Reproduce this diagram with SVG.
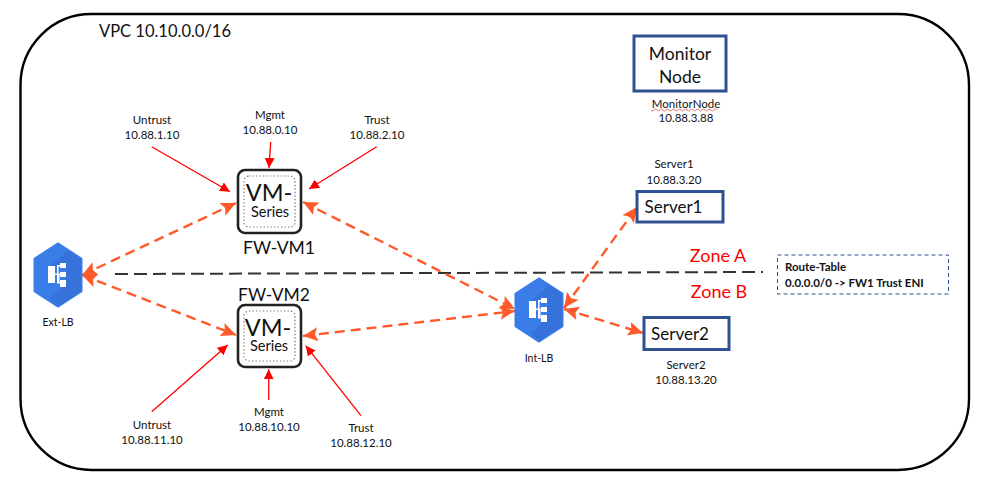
<svg xmlns="http://www.w3.org/2000/svg" width="986" height="487" viewBox="0 0 986 487">
<style>
text{font-family:"Lato","Liberation Sans",sans-serif;fill:#111;text-anchor:middle}
.s{font-size:11.5px}
.b{font-size:17.5px}
.z{font-size:18px;fill:#f00}
.box{fill:#fff;stroke:#2f5190;stroke-width:3}
.vm{fill:#fff;stroke:#222;stroke-width:2.6}
.dot{fill:none;stroke:#777;stroke-width:1.2;stroke-dasharray:1.3 2.2}
.da{fill:none;stroke:#ff5a2c;stroke-width:2.4;stroke-dasharray:10 6;marker-start:url(#oh);marker-end:url(#oh)}
.ra{fill:none;stroke:#f00;stroke-width:1.3;marker-end:url(#rh)}
.hex{fill:#3b7de8;stroke:#3b7de8;stroke-width:3;stroke-linejoin:round}
.sh{fill:#3672da}
.g{fill:#fff}
</style>
<defs>
<marker id="oh" markerUnits="userSpaceOnUse" markerWidth="16" markerHeight="14" refX="15" refY="7" orient="auto-start-reverse"><path d="M0 0L15 7L0 14L3 7Z" fill="#ff5a2c"/></marker>
<marker id="rh" markerUnits="userSpaceOnUse" markerWidth="10" markerHeight="10" refX="10" refY="5" orient="auto"><path d="M0 0L10 5L0 10Z" fill="#f00"/></marker>
<g id="lb"><path class="hex" d="M0 -31L23 -16V16L0 31L-23 16V-16Z"/><path class="sh" d="M23 -16V16L0 31L-8 23L8 9V-9L-8 -9L10 -25Z"/><path class="g" d="M-10 -9h7v17h-7zM2 -12h6v5h-6zM2 -3h6v5h-6zM2 5h6v7h-6zM-1 -10h3v1.500h-1.500v7H2v1.500h-.500v7H2v1.500h-3v-1.500h0v-7h-2v-1.500h2v-7h0z"/></g>
</defs>
<rect width="986" height="487" fill="#fff"/>
<g id="vpc"><rect x="20.500" y="14" width="948.500" height="456" rx="71" fill="none" stroke="#000" stroke-width="2.400"/><text x="165" y="37" style="font-size:16.500px">VPC 10.10.0.0/16</text></g>
<g id="connectors">
<path d="M115 274L763 272" fill="none" stroke="#333" stroke-width="2" stroke-dasharray="13 6"/>
<path class="da" d="M82 275L236 203"/>
<path class="da" d="M82 275L236 335"/>
<path class="da" d="M303 202L515 309"/>
<path class="da" d="M303 336L515 311"/>
<path class="da" d="M564 308L637 207"/>
<path class="da" d="M564 309L643 333"/>
<path class="ra" d="M151.700 146.700L230 191.700"/>
<path class="ra" d="M270.700 142L269 168"/>
<path class="ra" d="M376.700 146.700L309 189"/>
<path class="ra" d="M151.700 411.700L227.700 345"/>
<path class="ra" d="M268.700 400V369.300"/>
<path class="ra" d="M361 415.700L305.700 345.700"/>
</g>
<g id="ext-lb"><use href="#lb" x="58" y="275"/><text class="s" x="58" y="326" style="font-size:10.500px">Ext-LB</text></g>
<g id="int-lb"><use href="#lb" x="539" y="310"/><text class="s" x="539" y="362" style="font-size:10.500px">Int-LB</text></g>
<g id="fw-vm1"><rect class="vm" x="238" y="170" width="63" height="63" rx="7"/><rect class="dot" x="244" y="176" width="51" height="51" rx="5"/><text x="269" y="201" style="font-size:23.500px">VM-</text><text x="270" y="217" style="font-size:14.500px">Series</text><text x="279" y="254" class="b">FW-VM1</text></g>
<g id="fw-vm2"><rect class="vm" x="238" y="305" width="63" height="62" rx="7"/><rect class="dot" x="244" y="311" width="51" height="50" rx="5"/><text x="268" y="336" style="font-size:23.500px">VM-</text><text x="269" y="351" style="font-size:14.500px">Series</text><text x="274" y="301" class="b">FW-VM2</text></g>
<g id="if-untrust1"><text class="s" x="152" y="124">Untrust</text><text class="s" x="152" y="139">10.88.1.10</text></g>
<g id="if-mgmt1"><text class="s" x="270" y="119">Mgmt</text><text class="s" x="270" y="134">10.88.0.10</text></g>
<g id="if-trust1"><text class="s" x="377" y="124">Trust</text><text class="s" x="377" y="139">10.88.2.10</text></g>
<g id="if-untrust2"><text class="s" x="152" y="429">Untrust</text><text class="s" x="152" y="444">10.88.11.10</text></g>
<g id="if-mgmt2"><text class="s" x="269" y="416">Mgmt</text><text class="s" x="269" y="431">10.88.10.10</text></g>
<g id="if-trust2"><text class="s" x="361" y="432">Trust</text><text class="s" x="361" y="447">10.88.12.10</text></g>
<g id="monitor"><rect class="box" x="634" y="36" width="92" height="55"/><text x="680" y="60" class="b">Monitor</text><text x="680" y="83" class="b">Node</text><text class="s" x="686" y="108">MonitorNode</text><path d="M651 110q1.500 2 3 0t3 0t3 0t3 0t3 0t3 0t3 0t3 0t3 0t3 0t3 0t3 0t3 0t3 0t3 0t3 0t3 0t3 0t3 0t3 0t3 0t3 0" fill="none" stroke="#e2504a" stroke-width=".8"/><text class="s" x="686" y="122">10.88.3.88</text></g>
<g id="server1"><text class="s" x="674" y="168">Server1</text><text class="s" x="674" y="184">10.88.3.20</text><rect class="box" x="637" y="191.500" width="86" height="30.500"/><text x="673.500" y="213" class="b" style="font-size:17px">Server1</text></g>
<g id="server2"><rect class="box" x="644" y="317.500" width="85" height="32"/><text x="680" y="340" class="b" style="font-size:17px">Server2</text><text class="s" x="686" y="369">Server2</text><text class="s" x="686" y="384">10.88.13.20</text></g>
<g id="zones"><text class="z" x="718" y="262">Zone A</text><text class="z" x="719" y="298">Zone B</text></g>
<g id="route-table"><rect x="777.500" y="255" width="171" height="39" fill="#fff" stroke="#2f5190" stroke-width="1" stroke-dasharray="4 3"/><text x="785" y="271" style="font-size:11.500px;font-weight:700;text-anchor:start">Route-Table</text><text x="785" y="287" style="font-size:11.500px;font-weight:700;text-anchor:start">0.0.0.0/0 -&gt; FW1 Trust ENI</text></g>
</svg>
